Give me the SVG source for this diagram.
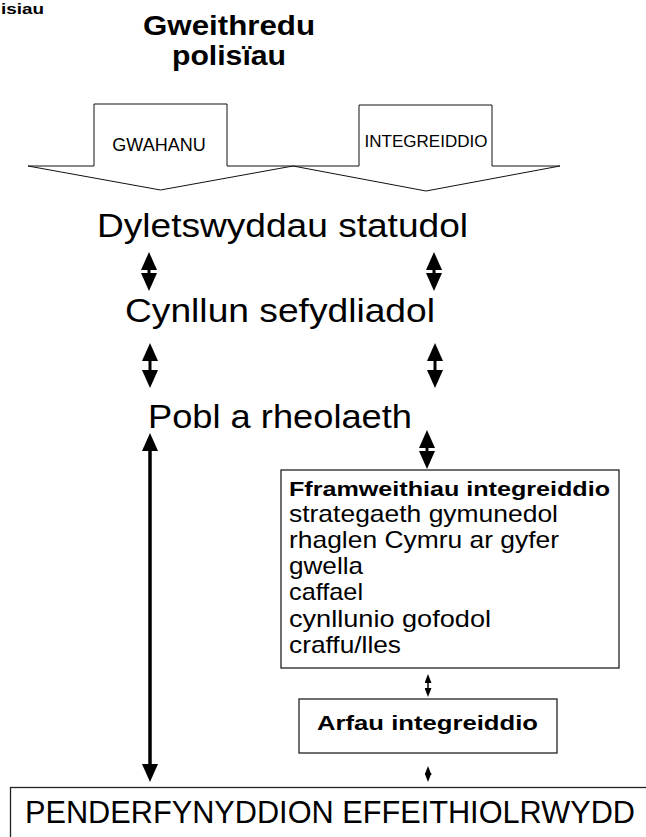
<svg xmlns="http://www.w3.org/2000/svg" width="646" height="837" viewBox="0 0 646 837">
<defs>
<style>
.t{font-family:"Liberation Sans",Arial,Helvetica,sans-serif;fill:#000}
.b{font-weight:bold}
.box{fill:#fff;stroke:#222;stroke-width:1.3}
.blk{fill:#fff;stroke:#111;stroke-width:1}
.big{stroke:#000;stroke-width:3;fill:none;marker-start:url(#hb);marker-end:url(#hb)}
.sm{stroke:#000;stroke-width:1.5;fill:none;marker-start:url(#hs);marker-end:url(#hs)}
</style>
<marker id="hb" viewBox="0 -8 18 16" refX="10" refY="0" markerWidth="18" markerHeight="16" markerUnits="userSpaceOnUse" orient="auto-start-reverse">
<path d="M0,-8 L18,0 L0,8 Z" fill="#000"/>
</marker>
<marker id="hs" viewBox="0 -3.5 9 7" refX="5" refY="0" markerWidth="9" markerHeight="7" markerUnits="userSpaceOnUse" orient="auto-start-reverse">
<path d="M0,-3.5 L9,0 L0,3.5 Z" fill="#000"/>
</marker>
</defs>
<rect width="646" height="837" fill="#fff"/>

<g id="corner">
<text class="t b" x="1" y="14" font-size="15" textLength="43" lengthAdjust="spacingAndGlyphs">isiau</text>
</g>

<g id="title">
<text class="t b" x="143" y="35" font-size="28" textLength="172" lengthAdjust="spacingAndGlyphs">Gweithredu</text>
<text class="t b" x="172" y="65" font-size="28" textLength="114" lengthAdjust="spacingAndGlyphs">polisïau</text>
</g>

<g id="gwahanu">
<path class="blk" d="M94,104 L227,104 L227,166 L293,166 L160.5,190 L28,166 L94,166 Z"/>
<text class="t" x="159" y="151" font-size="18" text-anchor="middle">GWAHANU</text>
</g>

<g id="integreiddio">
<path class="blk" d="M359,105 L492,105 L492,166 L560,166 L426,191 L293,166 L359,166 Z"/>
<text class="t" x="426" y="147" font-size="17" text-anchor="middle">INTEGREIDDIO</text>
</g>

<g id="dyletswyddau">
<text class="t" x="97" y="237" font-size="34" textLength="371" lengthAdjust="spacingAndGlyphs">Dyletswyddau statudol</text>
</g>

<g id="cynllun">
<text class="t" x="125" y="322" font-size="34" textLength="310" lengthAdjust="spacingAndGlyphs">Cynllun sefydliadol</text>
</g>

<g id="pobl">
<text class="t" x="148" y="428" font-size="34" textLength="264" lengthAdjust="spacingAndGlyphs">Pobl a rheolaeth</text>
</g>

<g id="fframweithiau">
<rect class="box" x="281" y="470" width="338" height="198"/>
<text class="t b" x="289" y="496" font-size="20" textLength="321" lengthAdjust="spacingAndGlyphs">Fframweithiau integreiddio</text>
<text class="t" x="289" y="522" font-size="24" textLength="269" lengthAdjust="spacingAndGlyphs">strategaeth gymunedol</text>
<text class="t" x="289" y="548" font-size="24" textLength="270" lengthAdjust="spacingAndGlyphs">rhaglen Cymru ar gyfer</text>
<text class="t" x="289" y="574" font-size="24" textLength="74" lengthAdjust="spacingAndGlyphs">gwella</text>
<text class="t" x="289" y="600" font-size="24" textLength="74" lengthAdjust="spacingAndGlyphs">caffael</text>
<text class="t" x="289" y="627" font-size="24" textLength="202" lengthAdjust="spacingAndGlyphs">cynllunio gofodol</text>
<text class="t" x="289" y="653" font-size="24" textLength="112" lengthAdjust="spacingAndGlyphs">craffu/lles</text>
</g>

<g id="arfau">
<rect class="box" x="299" y="699" width="258" height="54"/>
<text class="t b" x="317" y="730" font-size="21" textLength="221" lengthAdjust="spacingAndGlyphs">Arfau integreiddio</text>
</g>

<g id="penderfyniadau">
<rect class="box" x="10.5" y="787.5" width="700" height="100"/>
<text class="t" x="25" y="823" font-size="31" textLength="610" lengthAdjust="spacingAndGlyphs">PENDERFYNYDDION EFFEITHIOLRWYDD</text>
</g>

<g id="connectors">
<line class="big" x1="149" y1="260" x2="149" y2="283"/>
<line class="big" x1="434" y1="260" x2="434" y2="283"/>
<line class="big" x1="150" y1="351" x2="150" y2="380"/>
<line class="big" x1="435" y1="351" x2="435" y2="380"/>
<line class="big" x1="427" y1="438" x2="427" y2="461"/>
<line class="big" x1="150" y1="441" x2="150" y2="774" style="stroke-width:3.5"/>
<line class="sm" x1="428" y1="678" x2="428" y2="693"/>
<line class="sm" x1="428" y1="770" x2="428" y2="778"/>
</g>
</svg>
